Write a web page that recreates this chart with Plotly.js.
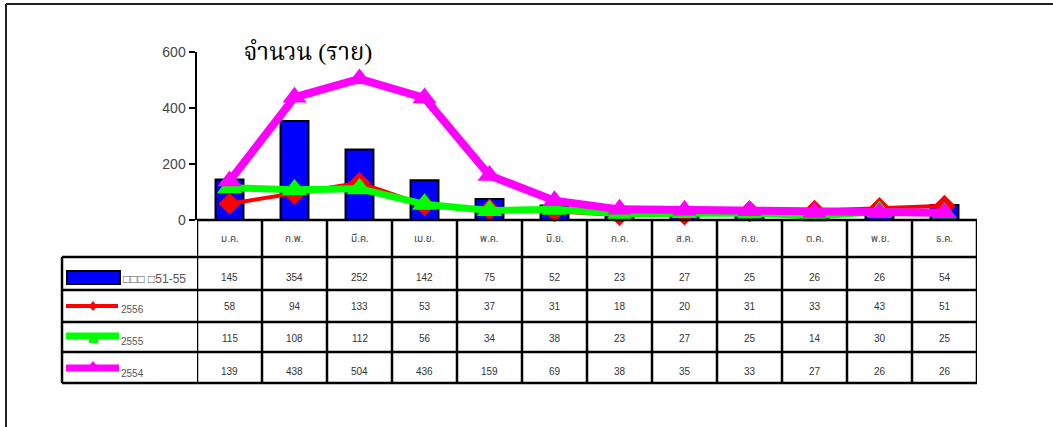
<!DOCTYPE html>
<html>
<head>
<meta charset="utf-8">
<script src="https://cdn.plot.ly/plotly-3.0.1.min.js"></script>
<style>html,body{margin:0;padding:0;background:#fff;}#chart{width:1053px;height:427px;}</style>
</head>
<body>
<div id="chart"></div>
<script>
// ---- data ----
const months = ['ม.ค.','ก.พ.','มี.ค.','เม.ย.','พ.ค.','มิ.ย.','ก.ค.','ส.ค.','ก.ย.','ต.ค.','พ.ย.','ธ.ค.'];
const median5y = [145,354,252,142,75,52,23,27,25,26,26,54];
const y2556 = [58,94,133,53,37,31,18,20,31,33,43,51];
const y2555 = [115,108,112,56,34,38,23,27,25,14,30,25];
const y2554 = [139,438,504,436,159,69,38,35,33,27,26,26];
const seriesNames = ['\u25A1\u25A1\u25A1 \u25A151-55','2556','2555','2554'];
const yTicks = [0,200,400,600];
const titleText = 'จำนวน (ราย)';

// ---- helpers (pixel -> paper) ----
const TOP = 52, PH = 168, L = 197, PW = 780;
const py = p => (220 - p) / PH;
const px = p => (p - L) / PW;

const sansThai = '"Liberation Sans", Arial, "Noto Sans Thai", "DejaVu Sans", sans-serif';

const traces = [
  {type:'bar', x: months, y: median5y, width: 0.43, name: seriesNames[0],
   marker:{color:'#0000FF', line:{color:'#000', width:2}}, hoverinfo:'y'},
  {type:'scatter', mode:'lines+markers', x: months, y: y2556, name: seriesNames[1], cliponaxis:false,
   line:{color:'#FF0000', width:4}, marker:{symbol:'diamond', size:17, color:'#FF0000'}},
  {type:'scatter', mode:'lines+markers', x: months, y: y2555, name: seriesNames[2], cliponaxis:false,
   line:{color:'#00FF00', width:7}, marker:{symbol:'triangle-up', size:22, color:'#00FF00'}},
  {type:'scatter', mode:'lines+markers', x: months, y: y2554, name: seriesNames[3], cliponaxis:false,
   line:{color:'#FF00FF', width:8}, marker:{symbol:'triangle-up', size:21, color:'#FF00FF'}}
];

const shapes = [];
const annotations = [];
const rowB = [220, 257, 290, 322, 352, 383];
const lineStyle = {color:'#000', width:2.5};

// frame
shapes.push({type:'line', xref:'paper', yref:'paper', x0:px(6), x1:px(1060), y0:py(4), y1:py(4), line:{color:'#222', width:2}});
shapes.push({type:'line', xref:'paper', yref:'paper', x0:px(6), x1:px(6), y0:py(4), y1:py(440), line:{color:'#222', width:2}});

// horizontal table lines
shapes.push({type:'line', xref:'paper', yref:'paper', x0:0, x1:1, y0:py(rowB[0]), y1:py(rowB[0]), line:lineStyle});
for (let i = 1; i < rowB.length; i++) {
  shapes.push({type:'line', xref:'paper', yref:'paper', x0:px(62), x1:1, y0:py(rowB[i]), y1:py(rowB[i]), line:lineStyle});
}
// vertical table lines
shapes.push({type:'line', xref:'paper', yref:'paper', x0:px(62), x1:px(62), y0:py(rowB[1]), y1:py(rowB[5]), line:lineStyle});
for (let k = 0; k <= months.length; k++) {
  shapes.push({type:'line', xref:'x', yref:'paper', x0:k-0.5, x1:k-0.5, y0:py(rowB[0]), y1:py(rowB[5]), line:lineStyle});
}

// month header labels
months.forEach((m, i) => {
  annotations.push({xref:'x', yref:'paper', x:m, y:py(238), text:m, showarrow:false,
    font:{family:sansThai, size:10, color:'#444'}, xanchor:'center', yanchor:'middle'});
});

// data values
const rows = [median5y, y2556, y2555, y2554];
const rowTextY = [277, 306, 338, 371];
rows.forEach((arr, r) => {
  arr.forEach((v, i) => {
    annotations.push({xref:'x', yref:'paper', x:months[i], y:py(rowTextY[r]), text:String(v), showarrow:false,
      font:{family:sansThai, size:10, color:'#333'}, xanchor:'center', yanchor:'middle'});
  });
});

// legend keys
shapes.push({type:'rect', xref:'paper', yref:'paper', x0:px(67), x1:px(120), y0:py(271), y1:py(284),
  fillcolor:'#0000FF', line:{color:'#000', width:2}});
shapes.push({type:'line', xref:'paper', yref:'paper', x0:px(66), x1:px(118), y0:py(306), y1:py(306), line:{color:'#FF0000', width:4}});
shapes.push({type:'path', xref:'paper', yref:'paper',
  path:`M ${px(93)} ${py(301)} L ${px(97)} ${py(306)} L ${px(93)} ${py(311)} L ${px(89)} ${py(306)} Z`,
  fillcolor:'#FF0000', line:{width:0}});
shapes.push({type:'line', xref:'paper', yref:'paper', x0:px(66), x1:px(119), y0:py(336), y1:py(336), line:{color:'#00FF00', width:7}});
shapes.push({type:'rect', xref:'paper', yref:'paper', x0:px(89), x1:px(98), y0:py(339), y1:py(343), fillcolor:'#00FF00', line:{width:0}});
shapes.push({type:'line', xref:'paper', yref:'paper', x0:px(66), x1:px(119), y0:py(368), y1:py(368), line:{color:'#FF00FF', width:7}});
shapes.push({type:'path', xref:'paper', yref:'paper',
  path:`M ${px(93)} ${py(361)} L ${px(97)} ${py(366)} L ${px(89)} ${py(366)} Z`,
  fillcolor:'#FF00FF', line:{width:0}});

const legendLabelPos = [[121, 279], [119, 309], [119, 341], [119, 373]];
const legendLabelSize = [12, 10, 10, 10];
seriesNames.forEach((n, i) => {
  annotations.push({xref:'paper', yref:'paper', x:px(legendLabelPos[i][0]), y:py(legendLabelPos[i][1]), text:n, showarrow:false,
    font:{family:sansThai, size:legendLabelSize[i], color:'#555'}, xanchor:'left', yanchor:'middle'});
});

const layout = {
  width:1053, height:427,
  margin:{l:L, r:1053-L-PW, t:TOP, b:427-TOP-PH, pad:0},
  paper_bgcolor:'#fff', plot_bgcolor:'rgba(0,0,0,0)',
  showlegend:false,
  title:{text:titleText, xref:'paper', x:px(308), xanchor:'center', yref:'container', y:1-52/427, yanchor:'middle',
    font:{family:'"Liberation Serif", "Noto Serif Thai", "DejaVu Serif", serif', size:24, color:'#000'}},
  xaxis:{type:'category', range:[-0.5, 11.5], showticklabels:false, ticks:'', showgrid:false, zeroline:false, showline:false, fixedrange:true},
  yaxis:{range:[0,600], tickvals:yTicks, ticktext:yTicks.map(String), ticks:'outside', ticklen:6, tickwidth:2, tickcolor:'#000',
    showline:true, linecolor:'#000', linewidth:2.5, showgrid:false, zeroline:false,
    tickfont:{family:sansThai, size:14, color:'#444'}, fixedrange:true},
  shapes: shapes,
  annotations: annotations
};

Plotly.newPlot('chart', traces, layout, {staticPlot:true, displayModeBar:false});
</script>
</body>
</html>
